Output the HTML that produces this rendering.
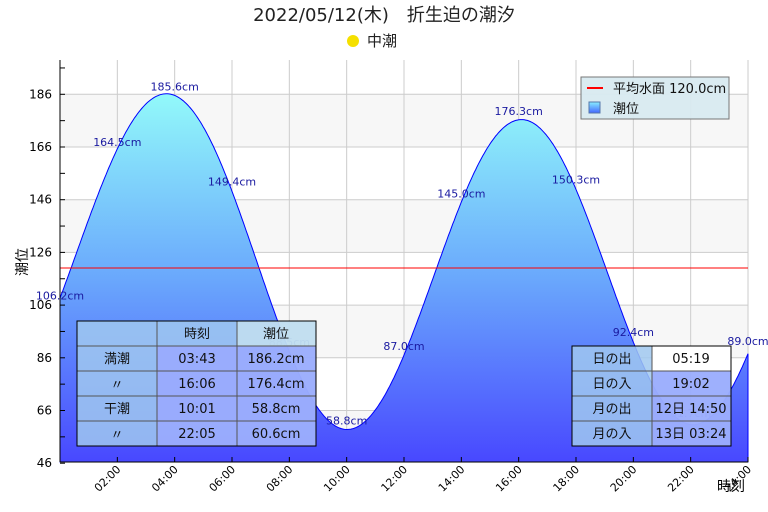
<!DOCTYPE html>
<html><head><meta charset="utf-8"><style>
body{margin:0;background:#fff;}
svg{display:block;font-family:"DejaVu Sans","Noto Sans CJK JP",sans-serif;}
</style></head><body>
<svg id="s" width="768" height="512" viewBox="0 0 768 512" xmlns="http://www.w3.org/2000/svg">
<defs>
<linearGradient id="g" x1="0" y1="94" x2="0" y2="462" gradientUnits="userSpaceOnUse">
<stop offset="0" stop-color="#92f9fa"/><stop offset="0.5" stop-color="#6aa8fc"/><stop offset="1" stop-color="#4848ff"/></linearGradient>
<linearGradient id="lg" x1="0" y1="0" x2="0" y2="1"><stop offset="0" stop-color="#8ef"/><stop offset="1" stop-color="#46f"/></linearGradient>
</defs>
<text x="384" y="21" font-size="18" text-anchor="middle" fill="#222">2022/05/12(木)　折生迫の潮汐</text>
<circle cx="353" cy="41" r="6" fill="#f5e000"/>
<text x="367" y="46" font-size="15" fill="#222">中潮</text>
<g id="bands"></g>
<g id="grid" stroke="#ccc" stroke-width="1"></g>
<path id="area" fill="url(#g)" stroke="#0000ff" stroke-width="1"/>
<line x1="60" y1="268" x2="748" y2="268" stroke="#f00" stroke-width="1"/>
<g id="lbl" font-size="11" fill="#1a1aa0" text-anchor="middle"></g>
<g id="axes" stroke="#000" stroke-width="1"></g>
<g id="ytl" font-size="12" fill="#000" text-anchor="end"></g>
<g id="xtl" font-size="11" fill="#000"></g>
<text x="731" y="491" font-size="14" text-anchor="middle" fill="#000">時刻</text>
<text transform="translate(27,262) rotate(-90)" font-size="14" text-anchor="middle" fill="#000">潮位</text>
<rect x="581" y="77" width="148" height="42" fill="#d8eaf0" fill-opacity="0.95" stroke="#777"/>
<line x1="587" y1="88" x2="603" y2="88" stroke="#f00" stroke-width="2"/>
<text x="613" y="93" font-size="13" fill="#111">平均水面 120.0cm</text>
<rect x="589" y="102" width="11" height="11" fill="url(#lg)" stroke="#57a"/>
<text x="613" y="113" font-size="13" fill="#111">潮位</text>
<g font-size="13" fill="#111" text-anchor="middle">
<rect x="77" y="321" width="239" height="125" fill="#a0c8f0" fill-opacity="0.85" stroke="#000"/>
<rect x="157" y="346" width="159" height="100" fill="#9aa8ff" fill-opacity="0.8"/>
<rect x="237" y="321" width="79" height="25" fill="#cce6f0" fill-opacity="0.7"/>
<g stroke="#555"><line x1="77" y1="346" x2="316" y2="346"/><line x1="77" y1="371" x2="316" y2="371"/><line x1="77" y1="396" x2="316" y2="396"/><line x1="77" y1="421" x2="316" y2="421"/><line x1="157" y1="321" x2="157" y2="446"/><line x1="237" y1="321" x2="237" y2="446"/></g>
<rect x="77" y="321" width="239" height="125" fill="none" stroke="#000"/>
<text x="197" y="338">時刻</text><text x="276" y="338">潮位</text>
<text x="117" y="363">満潮</text><text x="197" y="363">03:43</text><text x="276" y="363">186.2cm</text>
<text x="117" y="389">〃</text><text x="197" y="388">16:06</text><text x="276" y="388">176.4cm</text>
<text x="117" y="413">干潮</text><text x="197" y="413">10:01</text><text x="276" y="413">58.8cm</text>
<text x="117" y="439">〃</text><text x="197" y="438">22:05</text><text x="276" y="438">60.6cm</text>
<rect x="572" y="346" width="159" height="100" fill="#a0c8f0" fill-opacity="0.85"/>
<rect x="652" y="346" width="79" height="25" fill="#fff"/>
<rect x="652" y="371" width="79" height="75" fill="#9aa8ff" fill-opacity="0.8"/>
<g stroke="#555"><line x1="572" y1="371" x2="731" y2="371"/><line x1="572" y1="396" x2="731" y2="396"/><line x1="572" y1="421" x2="731" y2="421"/><line x1="652" y1="346" x2="652" y2="446"/></g>
<rect x="572" y="346" width="159" height="100" fill="none" stroke="#000"/>
<text x="612" y="363">日の出</text><text x="691" y="363">05:19</text>
<text x="612" y="388">日の入</text><text x="691" y="388">19:02</text>
<text x="612" y="413">月の出</text><text x="691" y="413">12日 14:50</text>
<text x="612" y="438">月の入</text><text x="691" y="438">13日 03:24</text>
</g>
</svg>
<script>
var NS="http://www.w3.org/2000/svg";
function X(h){return 60+h*28.667;}
function Y(v){return 94.3+(186-v)*2.635;}
function el(p,t,a,txt){var e=document.createElementNS(NS,t);for(var k in a)e.setAttribute(k,a[k]);if(txt)e.textContent=txt;document.getElementById(p).appendChild(e);return e;}
[[186,166],[146,126],[106,86],[66,46]].forEach(function(b){el("bands","rect",{x:60,y:Y(b[0]),width:688,height:Y(b[1])-Y(b[0]),fill:"#f7f7f7"});});
for(var h=2;h<=24;h+=2)el("grid","line",{x1:X(h),y1:60,x2:X(h),y2:462});
for(var v=66;v<=186;v+=20)el("grid","line",{x1:60,y1:Y(v),x2:748,y2:Y(v)});
var ex=[[-2.58,65],[3.717,186.2],[10.017,58.8],[16.1,176.4],[22.083,60.6],[28.3,185]];
function tide(t){for(var i=0;i<ex.length-1;i++){var a=ex[i],b=ex[i+1];if(t>=a[0]&&t<=b[0]){var p=(t-a[0])/(b[0]-a[0]);return a[1]+(b[1]-a[1])*(1-Math.cos(Math.PI*p))/2;}}return 0;}
var d="M60,462";for(var t=0;t<=24.001;t+=0.05){d+=" L"+X(t).toFixed(1)+","+Y(tide(t)).toFixed(1);}d+=" L748,462 Z";
document.getElementById("area").setAttribute("d",d);
var L=["106.2","164.5","185.6","149.4","88.5","58.8","87.0","145.0","176.3","150.3","92.4","61.7","89.0"];
L.forEach(function(s,i){var h=i*2,v=parseFloat(s);var x=X(h);if(i==0)x=60;if(i==12)x=748;el("lbl","text",{x:x,y:Y(v)-5},s+"cm");});
el("axes","line",{x1:60,y1:60,x2:60,y2:462});el("axes","line",{x1:60,y1:462,x2:748,y2:462});
for(v=46;v<=196;v+=10)el("axes","line",{x1:60,y1:Y(v),x2:65,y2:Y(v)});
for(h=2;h<=24;h+=2)el("axes","line",{x1:X(h),y1:462,x2:X(h),y2:457});
for(v=46;v<=186;v+=20)el("ytl","text",{x:52,y:Y(v)+4},""+v);
for(h=2;h<=24;h+=2){var s=(h<10?"0":"")+h+":00";el("xtl","text",{x:0,y:0,"text-anchor":"end",transform:"translate("+(X(h)+4)+",470) rotate(-45)"},s);}
</script>
</body></html>
